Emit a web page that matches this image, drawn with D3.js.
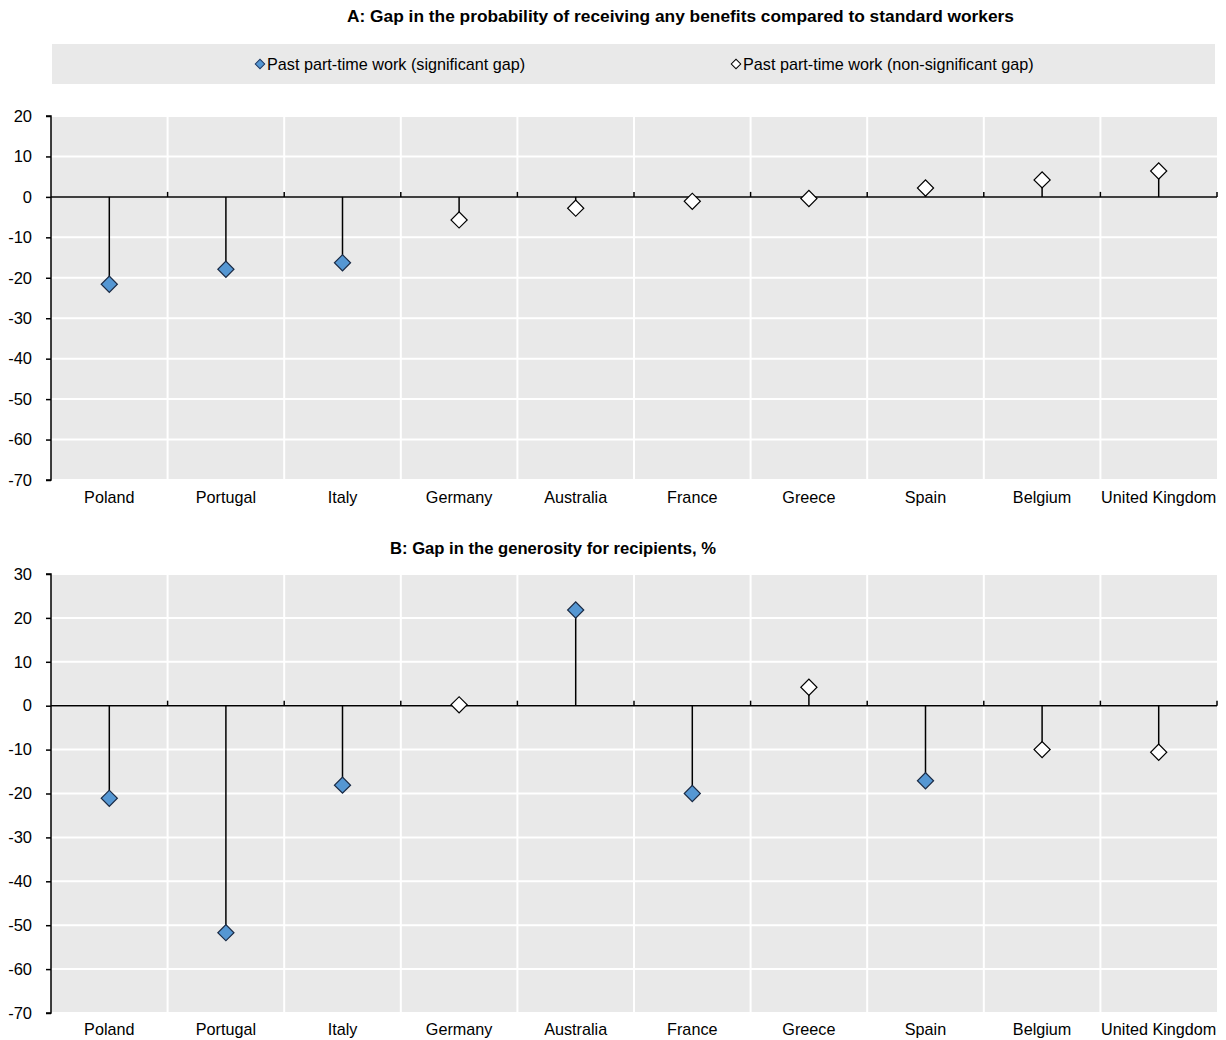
<!DOCTYPE html>
<html><head><meta charset="utf-8">
<script src="https://cdn.jsdelivr.net/npm/d3@7"></script>
<style>
body{margin:0;background:#fff;}
text{font-family:"Liberation Sans Narrow","Arial Narrow","Liberation Sans",Arial,sans-serif;fill:#000;}
</style></head><body>
<svg id="c" width="1226" height="1040"></svg>
<script>
const countries = ["Poland","Portugal","Italy","Germany","Australia","France","Greece","Spain","Belgium","United Kingdom"];
const valuesA = [-21.6,-17.9,-16.3,-5.7,-2.8,-1.1,-0.4,2.2,4.2,6.4];
const sigA = [true,true,true,false,false,false,false,false,false,false];
const valuesB = [-21.1,-51.7,-18.1,0.2,21.8,-20.0,4.2,-17.1,-10.0,-10.6];
const sigB = [true,true,true,false,true,true,false,true,false,false];
const ticksA = [20,10,0,-10,-20,-30,-40,-50,-60,-70];
const ticksB = [30,20,10,0,-10,-20,-30,-40,-50,-60,-70];
const titleA = "A: Gap in the probability of receiving any benefits compared to standard workers";
const titleB = "B: Gap in the generosity for recipients, %";
const legendLabels = ["Past part-time work (significant gap)","Past part-time work (non-significant gap)"];

const svg = d3.select("#c");
const BLUE = "#5597d3", BG = "#e9e9e9";
const diamond = d3.symbol().type(d3.symbolSquare);

// Titles
svg.append("text").attr("x",347).attr("y",22)
  .attr("textLength",667).attr("lengthAdjust","spacingAndGlyphs")
  .style("font-weight","bold").style("font-size","16.5px").text(titleA);

// Legend
svg.append("rect").attr("x",52).attr("y",44).attr("width",1163).attr("height",40).attr("fill",BG);
const legItems = [{x:260, fill:BLUE, stroke:"#1f3864"},{x:736, fill:"#fff", stroke:"#000"}];
legItems.forEach((d,i)=>{
  svg.append("path").attr("d",d3.symbol().type(d3.symbolSquare).size(45)())
    .attr("transform",`translate(${d.x},64) rotate(45)`)
    .attr("fill",d.fill).attr("stroke",d.stroke).attr("stroke-width",1);
  svg.append("text").attr("x",d.x+7).attr("y",64).attr("dy","0.35em")
    .style("font-size","16.2px").text(legendLabels[i]);
});

function panel(vals, sig, ticks, domain, yr, labelY){
  const x = d3.scaleBand().domain(countries).range([51,1217]).padding(0);
  const y = d3.scaleLinear().domain(domain).range(yr);
  const g = svg.append("g");
  g.append("rect").attr("x",51).attr("y",yr[1]).attr("width",1166).attr("height",yr[0]-yr[1]).attr("fill",BG);
  // horizontal grid
  g.selectAll(".hg").data(ticks).join("line")
    .attr("x1",51).attr("x2",1217).attr("y1",d=>y(d)).attr("y2",d=>y(d))
    .attr("stroke","#fff").attr("stroke-width",2);
  // vertical grid
  const bounds = countries.slice(1).map(c=>x(c));
  g.selectAll(".vg").data(bounds).join("line")
    .attr("x1",d=>d).attr("x2",d=>d).attr("y1",yr[1]).attr("y2",yr[0])
    .attr("stroke","#fff").attr("stroke-width",2);
  // y axis
  const ya = d3.axisLeft(y).tickValues(ticks).tickSize(5).tickPadding(14).tickFormat(d=>String(d));
  const ag = g.append("g").attr("transform","translate(51,0)").call(ya);
  ag.select(".domain").attr("stroke","#000").attr("stroke-width",1.5).attr("d",`M-5,${yr[1]}H0V${yr[0]}H-5`);
  ag.selectAll(".tick line").attr("stroke","#000").attr("stroke-width",1.5);
  ag.selectAll(".tick text").style("font-size","16.5px").style("font-family",'"Liberation Sans Narrow","Arial Narrow","Liberation Sans",sans-serif').attr("fill","#000");
  // zero line
  const z = y(0);
  g.append("line").attr("x1",51).attr("x2",1217).attr("y1",z).attr("y2",z).attr("stroke","#000").attr("stroke-width",1.5);
  g.selectAll(".zt").data(bounds.concat([1217])).join("line")
    .attr("x1",d=>d).attr("x2",d=>d).attr("y1",z).attr("y2",z-5).attr("stroke","#000").attr("stroke-width",1.5);
  // stems
  const data = countries.map((c,i)=>({c, v:vals[i], s:sig[i]}));
  g.selectAll(".stem").data(data).join("line")
    .attr("x1",d=>x(d.c)+x.bandwidth()/2).attr("x2",d=>x(d.c)+x.bandwidth()/2)
    .attr("y1",z).attr("y2",d=>y(d.v)).attr("stroke","#000").attr("stroke-width",1.5);
  // markers
  g.selectAll(".mk").data(data).join("path")
    .attr("d",diamond.size(130)())
    .attr("transform",d=>`translate(${x(d.c)+x.bandwidth()/2},${y(d.v)}) rotate(45)`)
    .attr("fill",d=>d.s?BLUE:"#fff").attr("stroke",d=>d.s?"#1a2a44":"#000").attr("stroke-width",1.2);
  // x labels
  g.selectAll(".xl").data(countries).join("text")
    .attr("x",d=>x(d)+x.bandwidth()/2).attr("y",labelY).attr("dy","0.35em")
    .attr("text-anchor","middle").style("font-size","16.2px").text(d=>d);
}

panel(valuesA, sigA, ticksA, [-70,20], [480,116], 497);
svg.append("text").attr("x",390).attr("y",554)
  .attr("textLength",326).attr("lengthAdjust","spacingAndGlyphs")
  .style("font-weight","bold").style("font-size","16.5px").text(titleB);
panel(valuesB, sigB, ticksB, [-70,30], [1013,574], 1029);
</script>
</body></html>
